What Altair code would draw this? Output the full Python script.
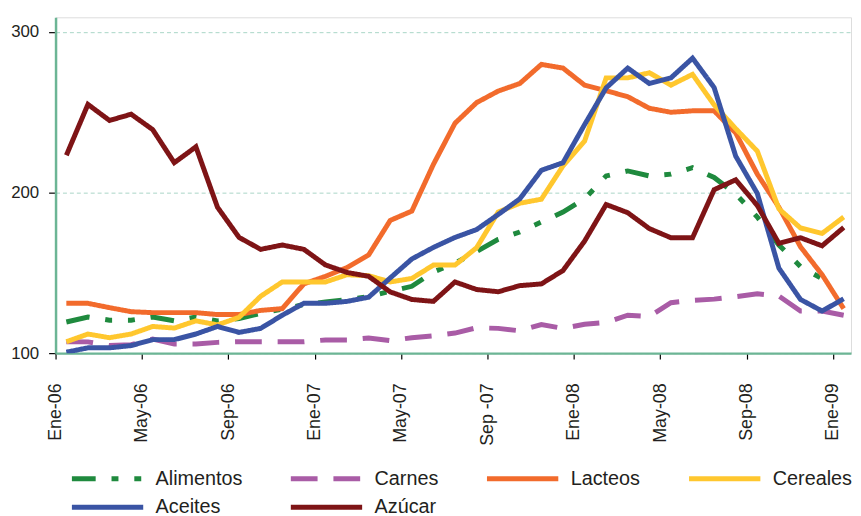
import altair as alt
import pandas as pd

series_names = ["Alimentos", "Carnes", "Lacteos", "Cereales", "Aceites", "Azúcar"]
series_colors = ["#1f8a3e", "#a95ca6", "#f26b2c", "#ffc72e", "#3a54a4", "#7e1416"]
series_dash = [[24, 16, 7, 16, 7, 16], [27, 16], [1, 0], [1, 0], [1, 0], [1, 0]]
series_width = [5, 5, 3, 3, 3, 3]

tick_labels = ["Ene-06", "May-06", "Sep-06", "Ene-07", "May-07", "Sep -07",
               "Ene-08", "May-08", "Sep-08", "Ene-09"]

# monthly index values, Ene-06 .. Ene-09
alimentos = [119.4, 122.5, 120.5, 120.5, 122.5, 120.1, 122.5, 120.1, 121.5, 124.8,
             127.3, 130.3, 131.8, 133.4, 135.1, 138.5, 141.6, 150.5, 156.0, 163.2,
             170.8, 175.4, 181.6, 187.8, 196.0, 210.3, 213.4, 210.3, 211.4, 215.4,
             209.3, 199.1, 184.7, 167.3, 153.9, 146.3]
carnes = [107.1, 107.0, 104.7, 105.3, 108.8, 105.7, 105.7, 106.7, 107.1, 107.1,
          107.1, 107.1, 108.2, 108.2, 109.4, 107.8, 109.6, 110.8, 112.5, 115.8,
          115.4, 113.9, 117.8, 115.4, 118.0, 119.1, 123.6, 122.8, 131.4, 132.8,
          133.6, 135.1, 136.9, 135.5, 126.2, 126.2, 123.6]
lacteos = [131.0, 131.0, 128.3, 125.8, 125.2, 125.2, 125.2, 124.0, 124.0, 126.6,
           127.7, 143.1, 147.8, 153.3, 161.1, 182.6, 188.4, 217.5, 243.1, 255.9,
           263.1, 267.8, 279.7, 277.4, 266.8, 263.3, 259.6, 252.4, 249.9, 250.8,
           250.8, 237.0, 211.4, 190.8, 166.2, 148.8, 127.7]
cereales = [107.1, 111.9, 109.6, 111.9, 116.6, 115.6, 120.1, 117.6, 122.3, 135.4,
            144.3, 144.3, 144.3, 148.8, 148.2, 144.3, 146.5, 154.8, 154.8, 165.6,
            187.8, 193.3, 195.8, 216.5, 231.9, 271.3, 271.3, 274.5, 266.8, 273.5,
            254.5, 239.7, 225.7, 189.8, 177.9, 174.5, 184.7]
aceites = [100.6, 103.3, 103.3, 104.7, 108.4, 108.4, 111.9, 116.6, 112.9, 115.4,
           123.6, 131.0, 131.0, 132.2, 134.8, 146.8, 158.6, 165.8, 172.0, 176.9,
           186.3, 196.0, 213.8, 218.5, 242.2, 265.1, 277.4, 267.8, 271.3, 283.6,
           265.3, 222.6, 199.4, 152.9, 133.4, 126.2, 133.8]
azucar = [223.1, 254.8, 244.8, 248.7, 239.1, 218.5, 228.4, 190.8, 172.0, 164.6,
          167.3, 164.6, 154.9, 150.2, 147.8, 138.1, 133.4, 132.2, 144.3, 139.6,
          138.2, 142.0, 143.1, 151.4, 169.7, 192.5, 187.4, 177.5, 171.8, 171.8,
          201.7, 207.9, 191.9, 168.3, 171.8, 166.8, 178.2]

values = [alimentos, carnes, lacteos, cereales, aceites, azucar]
rows = []
for name, vals in zip(series_names, values):
    for i, v in enumerate(vals):
        rows.append({"serie": name, "mes": i + 0.5, "valor": v})
df = pd.DataFrame(rows)

FONT = "Liberation Sans, Arial, sans-serif"
AXIS_GREEN = "#6cb595"
TEXT = "#231f20"

label_expr = "[" + ",".join("'" + t + "'" for t in tick_labels) + "][round(datum.value / 4)]"


def make_legend():
    return alt.Legend(title=None, orient="none", legendX=14, legendY=453,
                      direction="horizontal", columns=4, columnPadding=38,
                      rowPadding=6, symbolType="M-1,0H6.2", symbolSize=400,
                      symbolStrokeWidth=5, labelFontSize=20, labelFont=FONT,
                      labelColor=TEXT, labelOffset=62, labelLimit=300)


chart = alt.Chart(df).mark_line(clip=True).encode(
    x=alt.X("mes:Q",
            scale=alt.Scale(domain=[0, 36.84], nice=False, zero=False),
            axis=alt.Axis(values=list(range(0, 37, 4)), labelExpr=label_expr,
                          title=None, grid=False, labelAngle=270, labelAlign="right",
                          labelBaseline="middle", labelPadding=24, labelFontSize=18,
                          labelFont=FONT, labelColor=TEXT, tickColor="#000000",
                          tickSize=6, tickWidth=1.2, domainColor=AXIS_GREEN,
                          domainWidth=2.5, labelFlush=False, labelOverlap=False)),
    y=alt.Y("valor:Q",
            scale=alt.Scale(domain=[100, 309], nice=False, zero=False),
            axis=alt.Axis(values=[100, 200, 300], title=None, grid=True,
                          gridDash=[4, 3], gridColor="#a9d6c6", gridWidth=1,
                          labelFontSize=17, labelFont=FONT, labelColor=TEXT,
                          labelPadding=10, tickColor="#000000", tickSize=7,
                          tickWidth=1.2, domainColor=AXIS_GREEN, domainWidth=2.5)),
    color=alt.Color("serie:N",
                    scale=alt.Scale(domain=series_names, range=series_colors),
                    sort=series_names, legend=make_legend()),
    strokeDash=alt.StrokeDash("serie:N",
                              scale=alt.Scale(domain=series_names, range=series_dash),
                              sort=series_names, legend=make_legend()),
    strokeWidth=alt.StrokeWidth("serie:N",
                                scale=alt.Scale(domain=series_names, range=series_width),
                                legend=None),
    order=alt.Order("mes:Q"),
).properties(
    width=803,
    height=339,
    padding={"left": 48, "top": 7, "right": 2, "bottom": 162},
    autosize=alt.AutoSizeParams(type="none"),
).configure_view(stroke=None).configure(background="#ffffff")

chart.save("out.html", embed_options={"renderer": "svg", "actions": False})
